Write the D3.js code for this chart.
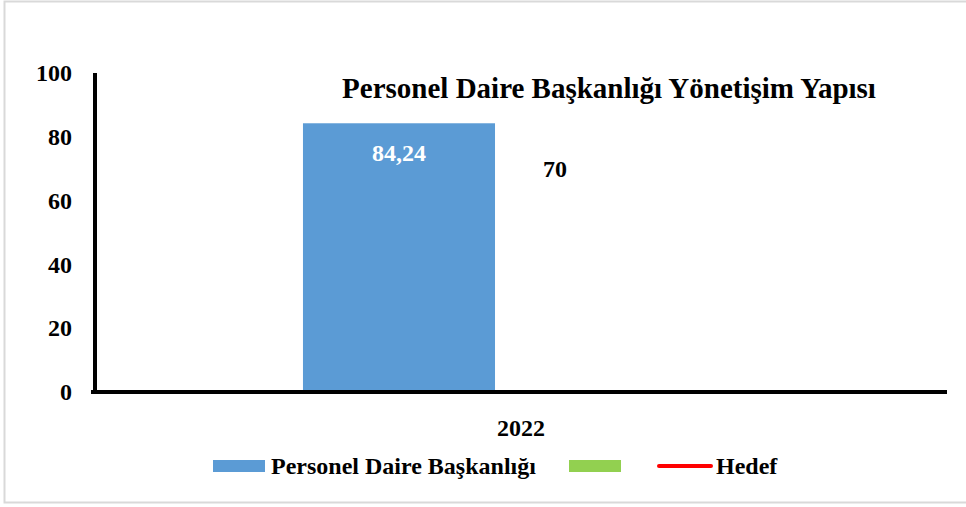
<!DOCTYPE html>
<html>
<head>
<meta charset="utf-8">
<script src="https://cdn.jsdelivr.net/npm/d3@7"></script>
<style>
  body { margin: 0; background: #fff; }
  text { font-family: "Liberation Serif", "Times New Roman", serif; font-weight: bold; }
</style>
</head>
<body>
<div id="chart"></div>
<script>
// Chart data
let categories = ['2022'];
let seriesNames = ['Personel Daire Başkanlığı', ''];
let barValues = [84.24, null];
let targetValues = [70];
let targetName = 'Hedef';
let yTicks = [0, 20, 40, 60, 80, 100];
let chartTitle = 'Personel Daire Başkanlığı Yönetişim Yapısı';

let width = 966;
let height = 507;
let colors = ['#5B9BD5', '#92D050'];

let svg = d3.select('#chart')
  .append('svg')
  .attr('width', width)
  .attr('height', height);

// Outer frame
svg.append('rect')
  .attr('x', 4.5).attr('y', 1.5)
  .attr('width', 963).attr('height', 501)
  .attr('fill', '#fff')
  .attr('stroke', '#d9d9d9')
  .attr('stroke-width', 2);

// Scales
let x0 = d3.scaleBand()
  .domain(categories)
  .range([95, 947]);

let x1 = d3.scaleBand()
  .domain(seriesNames.map((d, i) => i))
  .range([x0.bandwidth() * 0.2441, x0.bandwidth() * 0.7559])
  .paddingInner(0.213);

let y = d3.scaleLinear()
  .domain([0, 100])
  .range([392, 73]);

// Bars
let groups = svg.selectAll('g.cat')
  .data(categories)
  .enter()
  .append('g')
  .attr('class', 'cat')
  .attr('transform', (d) => 'translate(' + x0(d) + ',0)');

groups.each(function (cat, ci) {
  let g = d3.select(this);
  let vals = [barValues[ci]].concat([null]);
  vals.forEach((v, si) => {
    if (v == null) return;
    g.append('rect')
      .attr('x', x1(si))
      .attr('y', y(v))
      .attr('width', x1.bandwidth())
      .attr('height', y(0) - y(v))
      .attr('fill', colors[si]);
    g.append('text')
      .attr('x', x1(si) + x1.bandwidth() / 2)
      .attr('y', y(v) + 38)
      .attr('text-anchor', 'middle')
      .attr('fill', '#fff')
      .style('font-size', '24px')
      .text(String(v).replace('.', ','));
  });
});

// Target line (single point) and its label
let line = d3.line()
  .x((d, i) => x0(categories[i]) + x0.bandwidth() / 2)
  .y((d) => y(d));

svg.append('path')
  .datum(targetValues)
  .attr('d', line)
  .attr('fill', 'none')
  .attr('stroke', 'red')
  .attr('stroke-width', 4);

svg.selectAll('text.target')
  .data(targetValues)
  .enter()
  .append('text')
  .attr('class', 'target')
  .attr('x', (d, i) => x0(categories[i]) + x0.bandwidth() / 2 + 34)
  .attr('y', (d) => y(d))
  .attr('dy', '0.35em')
  .attr('text-anchor', 'middle')
  .style('font-size', '24px')
  .text((d) => d);

// Y axis
let yAxis = svg.append('g')
  .attr('transform', 'translate(95,0)')
  .call(d3.axisLeft(y).tickValues(yTicks).tickSize(0).tickPadding(23));
yAxis.select('.domain').remove();
yAxis.selectAll('text')
  .attr('fill', '#000')
  .style('font-size', '24px')
  .style('font-family', '"Liberation Serif", serif');

svg.append('line')
  .attr('x1', 95).attr('x2', 95)
  .attr('y1', y(100)).attr('y2', y(0) + 2)
  .attr('stroke', '#000').attr('stroke-width', 4);

// X axis
let xAxis = svg.append('g')
  .attr('transform', 'translate(0,' + y(0) + ')')
  .call(d3.axisBottom(x0).tickSize(0).tickPadding(27));
xAxis.select('.domain').remove();
xAxis.selectAll('text')
  .attr('fill', '#000')
  .style('font-size', '24px')
  .style('font-family', '"Liberation Serif", serif');

svg.append('line')
  .attr('x1', 91).attr('x2', 947)
  .attr('y1', y(0)).attr('y2', y(0))
  .attr('stroke', '#000').attr('stroke-width', 4);

// Title
svg.append('text')
  .attr('x', 609)
  .attr('y', 98)
  .attr('text-anchor', 'middle')
  .style('font-size', '29px')
  .text(chartTitle);

// Legend
let legend = svg.append('g');
let legendX = [213, 569];
seriesNames.forEach((name, i) => {
  legend.append('rect')
    .attr('x', legendX[i]).attr('y', 460)
    .attr('width', 52).attr('height', 12)
    .attr('fill', colors[i]);
  legend.append('text')
    .attr('x', legendX[i] + 58).attr('y', 474)
    .style('font-size', '24px')
    .text(name);
});
legend.append('line')
  .attr('x1', 659).attr('x2', 711)
  .attr('y1', 466).attr('y2', 466)
  .attr('stroke', 'red').attr('stroke-width', 4)
  .attr('stroke-linecap', 'round');
legend.append('text')
  .attr('x', 716).attr('y', 474)
  .style('font-size', '24px')
  .text(targetName);
</script>
</body>
</html>
